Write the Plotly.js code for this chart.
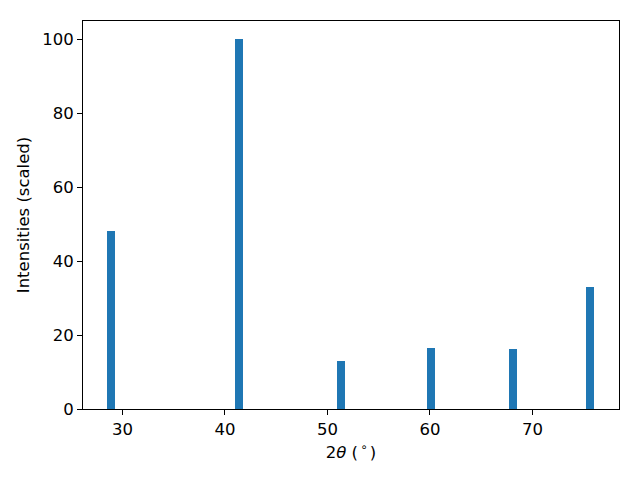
<!DOCTYPE html>
<html>
<head>
<meta charset="utf-8">
<script src="https://cdn.plot.ly/plotly-3.0.1.min.js"></script>
<style>html,body{margin:0;padding:0;background:#fff;}#chart{width:640px;height:480px;}</style>
</head>
<body>
<div id="chart"></div>
<script>
const twoTheta = [28.9, 41.4, 51.35, 60.1, 68.07, 75.63];
const intensities = [48.1, 100, 13.0, 16.6, 16.3, 32.9];
const xTicks = [30, 40, 50, 60, 70];
const yTicks = [0, 20, 40, 60, 80, 100];

const trace = {
  type: 'bar',
  x: twoTheta,
  y: intensities,
  width: 0.8,
  marker: {color: '#1f77b4', line: {width: 0}},
  hoverinfo: 'x+y'
};

const axisFont = {family: 'DejaVu Sans, sans-serif', size: 16.5, color: '#000'};

const layout = {
  width: 640, height: 480,
  paper_bgcolor: '#fff', plot_bgcolor: '#fff',
  margin: {l: 83, r: 21, t: 21, b: 71},
  showlegend: false,
  bargap: 0,
  xaxis: {
    range: [26.15, 78.45],
    tickvals: xTicks,
    ticktext: xTicks.map(String),
    ticks: 'outside', ticklen: 5, tickwidth: 1, tickcolor: '#000',
    showline: true, linecolor: '#000', linewidth: 1, mirror: true,
    showgrid: false, zeroline: false,
    tickfont: axisFont,
    title: {text: '2<i>θ</i> (<sup>\u2009∘\u2009</sup>)', font: axisFont, standoff: 8}
  },
  yaxis: {
    range: [0, 105],
    tickvals: yTicks,
    ticktext: yTicks.map(String),
    ticks: 'outside', ticklen: 5, tickwidth: 1, tickcolor: '#000',
    showline: true, linecolor: '#000', linewidth: 1, mirror: true,
    showgrid: false, zeroline: false,
    tickfont: axisFont,
    title: {text: 'Intensities (scaled)', font: axisFont, standoff: 8}
  }
};

Plotly.newPlot('chart', [trace], layout, {displayModeBar: false, staticPlot: true});
</script>
</body>
</html>
